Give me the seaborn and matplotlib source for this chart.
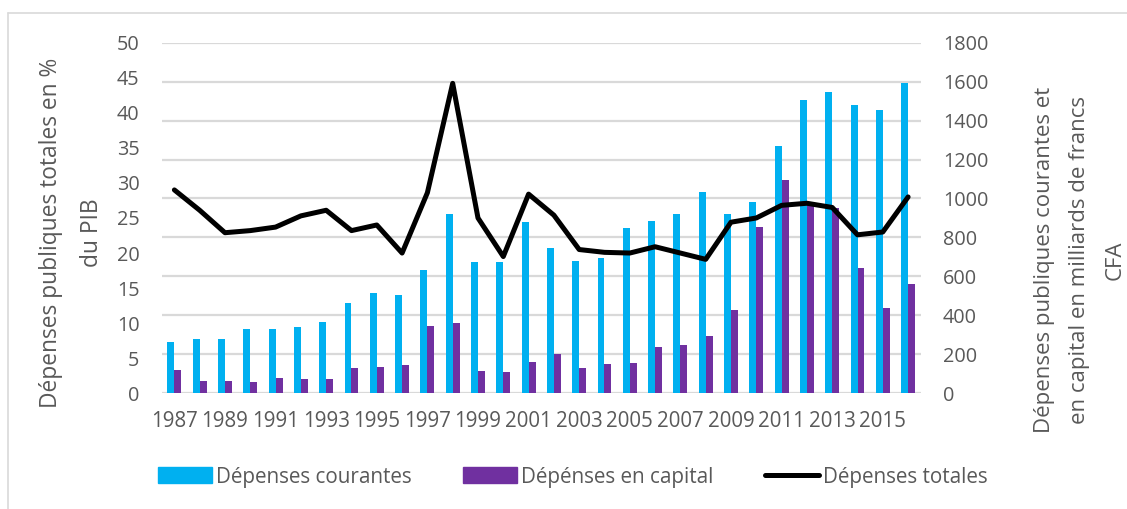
import numpy as np
import pandas as pd
import matplotlib.pyplot as plt
from matplotlib.lines import Line2D
from matplotlib.patches import Patch
import seaborn as sns

years = [1987, 1988, 1989, 1990, 1991, 1992, 1993, 1994, 1995, 1996,
         1997, 1998, 1999, 2000, 2001, 2002, 2003, 2004, 2005, 2006,
         2007, 2008, 2009, 2010, 2011, 2012, 2013, 2014, 2015, 2016]

# milliards de francs CFA (axe de droite)
courantes = [265, 277, 280, 329, 330, 342, 364, 462, 517, 503,
             631, 922, 676, 676, 878, 748, 678, 696, 847, 885,
             922, 1032, 919, 982, 1271, 1506, 1545, 1480, 1453, 1593]
capital = [118, 62, 65, 58, 77, 75, 73, 128, 133, 144,
           346, 359, 116, 108, 161, 202, 128, 152, 157, 238,
           246, 296, 429, 854, 1094, 965, 950, 642, 436, 561]

# % du PIB (axe de gauche)
totales = [29.0, 26.1, 22.9, 23.2, 23.7, 25.3, 26.1, 23.2, 24.0, 20.0,
           28.6, 44.2, 25.0, 19.5, 28.4, 25.4, 20.5, 20.1, 20.0, 20.9,
           20.0, 19.1, 24.4, 25.0, 26.8, 27.1, 26.5, 22.6, 23.0, 28.0]

lab_cour = 'Dépenses courantes'
lab_cap = 'Dépénses en capital'
lab_tot = 'Dépenses totales'

blue = '#00B0F0'
purple = '#7030A0'
grey = '#595959'
gridc = '#D9D9D9'

sns.set_theme(style='white')
plt.rcParams['font.family'] = ['Open Sans', 'DejaVu Sans']

df = pd.DataFrame({
    'annee': years + years,
    'valeur': courantes + capital,
    'type': [lab_cour] * len(years) + [lab_cap] * len(years),
})

fig = plt.figure(figsize=(11.27, 5.09), dpi=100)
ax = fig.add_axes([0.1435, 0.2273, 0.6735, 0.6889])
ax2 = ax.twinx()

sns.barplot(data=df, x='annee', y='valeur', hue='type',
            hue_order=[lab_cour, lab_cap], palette=[blue, purple],
            width=0.55, saturation=1, linewidth=0, legend=False, ax=ax2)

sns.lineplot(x=np.arange(len(years)), y=totales, color='black', lw=3.6, ax=ax)
for ln in ax.lines:
    ln.set_solid_joinstyle('round')

# line above the bars
ax.set_zorder(ax2.get_zorder() + 1)
ax.patch.set_visible(False)

ax.set_ylim(0, 50)
ax.set_yticks(range(0, 51, 5))
ax2.set_ylim(0, 1800)
ax2.set_yticks(range(0, 1801, 200))
ax.set_xlim(-0.5, len(years) - 0.5)
ax.set_xticks(range(0, len(years), 2))
ax.set_xticklabels([str(y) for y in years[::2]])

ax.grid(False)
ax2.grid(False)
ax2.yaxis.grid(True, color=gridc, lw=1.6)
ax2.set_axisbelow(True)
for a in (ax, ax2):
    for s in a.spines.values():
        s.set_visible(False)

ax.tick_params(axis='y', length=0, pad=16, labelsize=14.3, labelcolor=grey)
ax.tick_params(axis='x', length=0, pad=13, labelsize=14.8, labelcolor=grey)
ax2.tick_params(axis='y', length=0, pad=16, labelsize=14.3, labelcolor=grey)

ax.set_xlabel('')
ax2.set_xlabel('')
ax.set_ylabel('Dépenses publiques totales en %\ndu PIB', fontsize=16.4,
              color=grey, linespacing=1.95)
ax.yaxis.set_label_coords(-0.076, 0.457)
ax2.set_ylabel('Dépenses publiques courantes et\nen capital en milliards de francs\nCFA',
               fontsize=16, color=grey, linespacing=1.9)
ax2.yaxis.set_label_coords(1.149, 0.38)

handles = [Patch(color=blue), Patch(color=purple), Line2D([], [], color='black', lw=3.6)]
fig.legend(handles, [lab_cour, lab_cap, lab_tot], loc='center',
           bbox_to_anchor=(573 / 1127, 1 - 477 / 509), ncol=3, frameon=False,
           fontsize=14.9, handlelength=2.6, handleheight=0.8, handletextpad=0.2,
           columnspacing=2.5, labelcolor=grey)

# chart frame (only left and top edges show)
fig.add_artist(Line2D([8.3 / 1127] * 2, [0, 1 - 13.3 / 509], color=gridc, lw=1.2,
                      transform=fig.transFigure))
fig.add_artist(Line2D([8.3 / 1127, 1], [1 - 13.3 / 509] * 2, color=gridc, lw=1.2,
                      transform=fig.transFigure))

fig.savefig('out.png', dpi=100)
